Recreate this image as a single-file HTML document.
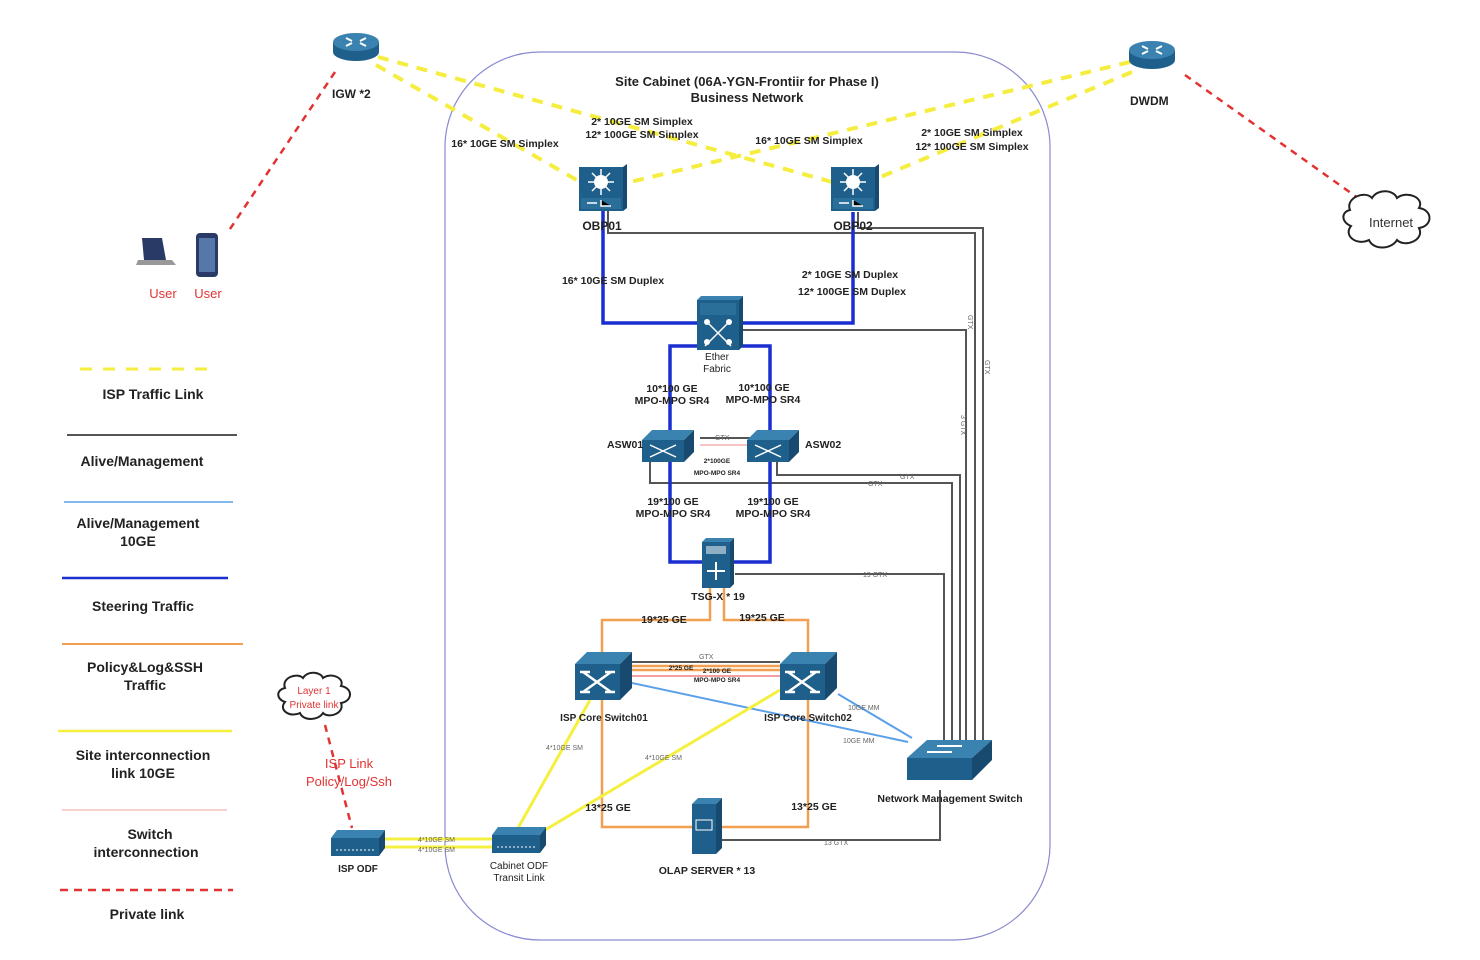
<!DOCTYPE html>
<html><head><meta charset="utf-8"><style>
html,body{margin:0;padding:0;background:#fff;}
svg{display:block;font-family:"Liberation Sans",Arial,sans-serif;}
.b{font-weight:bold;fill:#222;}
</style></head><body>
<svg width="1480" height="960" viewBox="0 0 1480 960" xmlns="http://www.w3.org/2000/svg">
<defs>
<g id="router"><ellipse cx="0" cy="10" rx="23" ry="9" fill="#1f5f8b"/><rect x="-23" y="0" width="46" height="10" fill="#1f5f8b"/><ellipse cx="0" cy="0" rx="23" ry="9" fill="#3a82b0"/><path d="M-10,-4 l6,3 M10,4 l-6,-3 M10,-4 l-6,3 M-10,4 l6,-3" stroke="#fff" stroke-width="2"/></g>
<g id="l3"><rect x="0" y="0" width="44" height="44" fill="#1f5f8b"/><path d="M44,0 l4,-3 v44 l-4,3z" fill="#174a6e"/><rect x="2" y="31" width="40" height="11" fill="#2a6e9a"/><circle cx="22" cy="15" r="7" fill="#fff"/><path d="M22,2 v26 M9,15 h26 M13,6 l18,18 M31,6 l-18,18" stroke="#fff" stroke-width="1.5"/><path d="M8,36 h10 M22,33 v6 h10" stroke="#fff" stroke-width="1.5"/></g>
<g id="sw"><path d="M0,12 l12,-12 h45 l-12,12z" fill="#3a82b0"/><path d="M45,12 l12,-12 v36 l-12,12z" fill="#174a6e"/><rect x="0" y="12" width="45" height="36" fill="#1f5f8b"/><path d="M8,20 l28,20 M8,40 l28,-20 M5,20 h10 M30,20 h10 M5,40 h10 M30,40 h10" stroke="#fff" stroke-width="2.5"/></g>
<g id="asw"><path d="M0,10 l10,-10 h42 l-10,10z" fill="#3a82b0"/><path d="M42,10 l10,-10 v22 l-10,10z" fill="#174a6e"/><rect x="0" y="10" width="42" height="22" fill="#1f5f8b"/><path d="M8,15 l26,12 M8,27 l26,-12" stroke="#fff" stroke-width="1.5"/></g>
</defs>

<!-- cabinet -->
<rect x="445" y="52" width="605" height="888" rx="95" ry="95" fill="none" stroke="#8a8ad0" stroke-width="1.2"/>

<!-- red private links -->
<g stroke="#e23333" stroke-width="2.5" stroke-dasharray="7,6" fill="none">
<line x1="335" y1="72" x2="228" y2="232"/>
<line x1="1185" y1="75" x2="1358" y2="198"/>
<line x1="325" y1="725" x2="352" y2="828"/>
</g>

<!-- yellow dashed ISP -->
<g stroke="#f5ee40" stroke-width="4" stroke-dasharray="11,9" fill="none">
<line x1="378" y1="57" x2="832" y2="182"/>
<line x1="376" y1="65" x2="582" y2="183"/>
<line x1="1130" y1="62" x2="626" y2="183"/>
<line x1="1132" y1="72" x2="878" y2="178"/>
</g>

<!-- grey management -->
<g stroke="#555" stroke-width="2" fill="none">
<polyline points="608,208 608,233 975,233 975,748"/>
<polyline points="858,212 858,228 983,228 983,748"/>
<polyline points="741,330 966,330 966,748"/>
<polyline points="777,458 777,475 960,475 960,748"/>
<polyline points="650,460 650,483 952,483 952,748"/>
<polyline points="735,574 944,574 944,748"/>
<polyline points="720,840 940,840 940,790"/>
<line x1="700" y1="438" x2="750" y2="438"/>
<line x1="632" y1="662" x2="780" y2="662"/>
</g>
<line x1="700" y1="445" x2="750" y2="445" stroke="#e88" stroke-width="1"/>

<!-- blue steering -->
<g stroke="#1a2fd0" stroke-width="3.5" fill="none">
<polyline points="603,205 603,323 697,323"/>
<polyline points="853,212 853,323 741,323"/>
<polyline points="697,346 670,346 670,432"/>
<polyline points="741,346 770,346 770,432"/>
<polyline points="670,462 670,562 703,562"/>
<polyline points="770,462 770,562 733,562"/>
</g>

<!-- orange -->
<g stroke="#f0a050" stroke-width="2.5" fill="none">
<polyline points="710,584 710,620 602,620 602,827 808,827 808,620 724,620 724,584"/>
<line x1="632" y1="666" x2="780" y2="666"/>
<line x1="632" y1="670" x2="780" y2="670"/>
</g>
<line x1="632" y1="676" x2="780" y2="676" stroke="#f08080" stroke-width="1.5"/>

<!-- light blue -->
<g stroke="#5aa0e8" stroke-width="2" fill="none">
<line x1="632" y1="683" x2="908" y2="742"/>
<line x1="838" y1="694" x2="912" y2="738"/>
</g>

<!-- yellow solid -->
<g stroke="#f5f040" stroke-width="3" fill="none">
<line x1="590" y1="700" x2="518" y2="828"/>
<line x1="780" y1="690" x2="545" y2="830"/>
<line x1="385" y1="839" x2="492" y2="839"/>
<line x1="385" y1="847" x2="492" y2="847"/>
</g>

<!-- icons -->
<use href="#router" x="356" y="42"/>
<use href="#router" x="1152" y="50"/>
<use href="#l3" x="579" y="167"/>
<use href="#l3" x="831" y="167"/>
<!-- ether fabric -->
<g transform="translate(697,296)"><rect x="0" y="4" width="42" height="50" fill="#1f5f8b"/><path d="M0,4 l4,-4 h42 l-4,4z" fill="#3a82b0"/><path d="M42,4 l4,-4 v50 l-4,4z" fill="#174a6e"/><rect x="3" y="7" width="36" height="12" fill="#2a6e9a"/><path d="M8,24 l26,26 M34,24 l-26,26" stroke="#fff" stroke-width="1.5"/><circle cx="10" cy="26" r="3" fill="#fff"/><circle cx="32" cy="26" r="3" fill="#fff"/><circle cx="10" cy="46" r="3" fill="#fff"/><circle cx="32" cy="46" r="3" fill="#fff"/></g>
<use href="#asw" x="642" y="430"/>
<use href="#asw" x="747" y="430"/>
<!-- TSG -->
<g transform="translate(702,538)"><rect x="0" y="4" width="28" height="46" fill="#1f5f8b"/><path d="M0,4 l4,-4 h28 l-4,4z" fill="#3a82b0"/><path d="M28,4 l4,-4 v46 l-4,4z" fill="#174a6e"/><rect x="4" y="8" width="20" height="8" fill="#fff" opacity=".5"/><path d="M14,24 v18 M5,33 h18" stroke="#fff" stroke-width="2"/></g>
<use href="#sw" x="575" y="652"/>
<use href="#sw" x="780" y="652"/>
<!-- NMS -->
<g transform="translate(907,740)"><path d="M0,18 l20,-18 h65 l-20,18z" fill="#3a82b0"/><path d="M65,18 l20,-18 v20 l-20,20z" fill="#174a6e"/><rect x="0" y="18" width="65" height="22" fill="#1f5f8b"/><path d="M30,6 h25 M20,12 h25" stroke="#fff" stroke-width="2"/></g>
<!-- OLAP -->
<g transform="translate(692,798)"><rect x="0" y="6" width="24" height="50" fill="#1f5f8b"/><path d="M0,6 l6,-6 h24 l-6,6z" fill="#3a82b0"/><path d="M24,6 l6,-6 v50 l-6,6z" fill="#174a6e"/><rect x="4" y="22" width="16" height="10" fill="none" stroke="#fff"/></g>
<!-- ODFs -->
<g transform="translate(331,830)"><path d="M0,8 l6,-8 h48 l-6,8z" fill="#3a82b0"/><rect x="0" y="8" width="48" height="18" fill="#1f5f8b"/><path d="M48,8 l6,-8 v18 l-6,8z" fill="#174a6e"/><line x1="5" y1="20" x2="43" y2="20" stroke="#fff" stroke-dasharray="2,2"/></g>
<g transform="translate(492,827)"><path d="M0,8 l6,-8 h48 l-6,8z" fill="#3a82b0"/><rect x="0" y="8" width="48" height="18" fill="#1f5f8b"/><path d="M48,8 l6,-8 v18 l-6,8z" fill="#174a6e"/><line x1="5" y1="20" x2="43" y2="20" stroke="#fff" stroke-dasharray="2,2"/></g>
<!-- users -->
<g transform="translate(140,238)"><path d="M2,0 h20 l4,22 h-22z" fill="#2a3a66"/><path d="M-2,22 h34 l4,5 h-40z" fill="#999"/></g>
<rect x="196" y="233" width="22" height="44" rx="4" fill="#2a3a66"/><rect x="199" y="238" width="16" height="34" fill="#5577aa"/>
<!-- clouds -->
<path d="M1350,210 c-5,-12 15,-20 22,-12 c6,-10 22,-8 25,0 c10,-8 28,0 22,10 c14,2 14,18 0,20 c6,12 -14,20 -22,12 c-6,10 -24,10 -28,0 c-12,6 -26,-4 -18,-14 c-10,-4 -10,-14 -1,-16z" fill="#fff" stroke="#222" stroke-width="2"/>
<path d="M285,688 c-4,-10 12,-16 18,-10 c5,-8 18,-6 20,0 c8,-6 22,0 18,8 c12,2 12,15 0,17 c4,10 -12,16 -18,10 c-5,8 -20,8 -23,0 c-10,5 -22,-3 -15,-11 c-9,-3 -9,-12 0,-14z" fill="#fff" stroke="#222" stroke-width="2"/>

<!-- text -->
<g class="b" font-size="12">
<text x="332" y="98">IGW *2</text>
<text x="1130" y="105">DWDM</text>
<text x="747" y="86" text-anchor="middle" font-size="13">Site Cabinet  (06A-YGN-Frontiir for Phase I)</text>
<text x="747" y="102" text-anchor="middle" font-size="13">Business Network</text>
<text x="505" y="147" text-anchor="middle" font-size="10.5">16* 10GE SM Simplex</text>
<text x="642" y="125" text-anchor="middle" font-size="10.5">2* 10GE SM Simplex</text>
<text x="642" y="138" text-anchor="middle" font-size="10.5">12* 100GE SM Simplex</text>
<text x="809" y="144" text-anchor="middle" font-size="10.5">16* 10GE SM Simplex</text>
<text x="972" y="136" text-anchor="middle" font-size="10.5">2* 10GE SM Simplex</text>
<text x="972" y="150" text-anchor="middle" font-size="10.5">12* 100GE SM Simplex</text>
<text x="602" y="230" text-anchor="middle">OBP01</text>
<text x="853" y="230" text-anchor="middle">OBP02</text>
<text x="613" y="284" text-anchor="middle" font-size="10.5">16* 10GE SM Duplex</text>
<text x="850" y="278" text-anchor="middle" font-size="10.5">2* 10GE SM Duplex</text>
<text x="852" y="295" text-anchor="middle" font-size="10.5">12* 100GE SM Duplex</text>
<text x="717" y="360" text-anchor="middle" font-size="10" font-weight="normal">Ether</text>
<text x="717" y="372" text-anchor="middle" font-size="10" font-weight="normal">Fabric</text>
<text x="672" y="392" text-anchor="middle" font-size="10.5">10*100 GE</text>
<text x="672" y="404" text-anchor="middle" font-size="10.5">MPO-MPO SR4</text>
<text x="764" y="391" text-anchor="middle" font-size="10.5">10*100 GE</text>
<text x="763" y="403" text-anchor="middle" font-size="10.5">MPO-MPO SR4</text>
<text x="607" y="448" font-size="10.5">ASW01</text>
<text x="805" y="448" font-size="10.5">ASW02</text>
<text x="717" y="463" text-anchor="middle" font-size="6.5">2*100GE</text>
<text x="717" y="475" text-anchor="middle" font-size="6.5">MPO-MPO SR4</text>
<text x="673" y="505" text-anchor="middle" font-size="10.5">19*100 GE</text>
<text x="673" y="517" text-anchor="middle" font-size="10.5">MPO-MPO SR4</text>
<text x="773" y="505" text-anchor="middle" font-size="10.5">19*100 GE</text>
<text x="773" y="517" text-anchor="middle" font-size="10.5">MPO-MPO SR4</text>
<text x="718" y="600" text-anchor="middle" font-size="10.5">TSG-X * 19</text>
<text x="664" y="623" text-anchor="middle" font-size="10.5">19*25 GE</text>
<text x="762" y="621" text-anchor="middle" font-size="10.5">19*25 GE</text>
<text x="604" y="721" text-anchor="middle" font-size="10">ISP Core Switch01</text>
<text x="808" y="721" text-anchor="middle" font-size="10">ISP Core Switch02</text>
<text x="681" y="670" text-anchor="middle" font-size="6.5">2*25 GE</text>
<text x="717" y="673" text-anchor="middle" font-size="6.5">2*100 GE</text>
<text x="717" y="682" text-anchor="middle" font-size="6.5">MPO-MPO SR4</text>
<text x="608" y="811" text-anchor="middle" font-size="10.5">13*25 GE</text>
<text x="814" y="810" text-anchor="middle" font-size="10.5">13*25 GE</text>
<text x="707" y="874" text-anchor="middle" font-size="10.5">OLAP SERVER * 13</text>
<text x="950" y="802" text-anchor="middle" font-size="10.5">Network Management Switch</text>
<text x="358" y="872" text-anchor="middle" font-size="10">ISP ODF</text>
<text x="519" y="869" text-anchor="middle" font-size="10" font-weight="normal">Cabinet ODF</text>
<text x="519" y="881" text-anchor="middle" font-size="10" font-weight="normal">Transit Link</text>
</g>
<g fill="#666" font-size="7">
<text x="715" y="440">GTX</text>
<text x="699" y="659">GTX</text>
<text x="900" y="479">GTX</text>
<text x="868" y="486">GTX</text>
<text x="863" y="577">19 GTX</text>
<text x="824" y="845">13 GTX</text>
<text x="848" y="710">10GE MM</text>
<text x="843" y="743">10GE MM</text>
<text x="546" y="750">4*10GE SM</text>
<text x="645" y="760">4*10GE SM</text>
<text x="418" y="842">4*10GE SM</text>
<text x="418" y="852">4*10GE SM</text>
<text transform="translate(968,315) rotate(90)">GTX</text>
<text transform="translate(985,360) rotate(90)">GTX</text>
<text transform="translate(961,415) rotate(90)">3 GTX</text>
</g>
<text x="1391" y="227" text-anchor="middle" font-size="13" fill="#333">Internet</text>
<text x="314" y="694" text-anchor="middle" font-size="10" fill="#e23333">Layer 1</text>
<text x="314" y="708" text-anchor="middle" font-size="10" fill="#e23333">Private link</text>
<text x="349" y="768" text-anchor="middle" font-size="13" fill="#e23333">ISP Link</text>
<text x="349" y="786" text-anchor="middle" font-size="13" fill="#e23333">Policy/Log/Ssh</text>
<text x="163" y="298" text-anchor="middle" font-size="13" fill="#e23333">User</text>
<text x="208" y="298" text-anchor="middle" font-size="13" fill="#e23333">User</text>

<!-- legend -->
<line x1="80" y1="369" x2="218" y2="369" stroke="#f5ee40" stroke-width="3" stroke-dasharray="12,11"/>
<line x1="67" y1="435" x2="237" y2="435" stroke="#555" stroke-width="2"/>
<line x1="64" y1="502" x2="233" y2="502" stroke="#5aa0e8" stroke-width="1.5"/>
<line x1="62" y1="578" x2="228" y2="578" stroke="#1a2fd0" stroke-width="2.5"/>
<line x1="62" y1="644" x2="243" y2="644" stroke="#f0a050" stroke-width="2"/>
<line x1="58" y1="731" x2="232" y2="731" stroke="#f5f040" stroke-width="2.5"/>
<line x1="62" y1="810" x2="227" y2="810" stroke="#f0a0a0" stroke-width="1"/>
<line x1="60" y1="890" x2="233" y2="890" stroke="#e23333" stroke-width="2.5" stroke-dasharray="8,6"/>
<g class="b" font-size="14" text-anchor="middle">
<text x="153" y="399">ISP  Traffic Link</text>
<text x="142" y="466">Alive/Management</text>
<text x="138" y="528">Alive/Management</text>
<text x="138" y="546">10GE</text>
<text x="143" y="611">Steering Traffic</text>
<text x="145" y="672">Policy&amp;Log&amp;SSH</text>
<text x="145" y="690">Traffic</text>
<text x="143" y="760">Site interconnection</text>
<text x="143" y="778">link 10GE</text>
<text x="150" y="839">Switch</text>
<text x="146" y="857">interconnection</text>
<text x="147" y="919">Private link</text>
</g>
</svg>
</body></html>
